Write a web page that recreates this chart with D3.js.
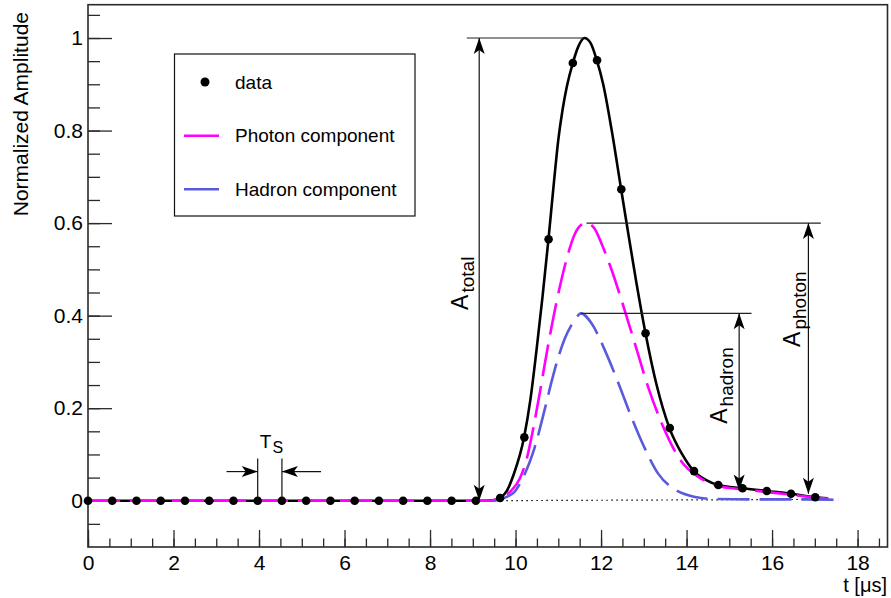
<!DOCTYPE html>
<html>
<head>
<meta charset="utf-8">
<script src="https://cdn.jsdelivr.net/npm/d3@7"></script>
<style>
  body { margin: 0; background: #fff; }
  text { font-family: "Liberation Sans", Arial, Helvetica, sans-serif; }
</style>
</head>
<body>
<div id="chart"></div>
<script>
// sampled data points (t in us, normalized amplitude)
const dataT = [0, 0.567, 1.134, 1.701, 2.268, 2.835, 3.402, 3.969, 4.536, 5.103, 5.67, 6.237, 6.804, 7.371, 7.938, 8.505,
    9.072, 9.639, 10.206, 10.773, 11.34, 11.907, 12.474, 13.041, 13.608, 14.175, 14.742, 15.309, 15.876, 16.443, 17.01];
const dataV = [0, 0, 0, 0, 0, 0, 0, 0, 0, 0, 0, 0, 0, 0, 0, 0,
    0, 0.006, 0.137, 0.565, 0.946, 0.952, 0.673, 0.362, 0.157, 0.064, 0.034, 0.027, 0.021, 0.015, 0.0075];

// fitted total pulse
const totalT = [0, 9.3, 9.5, 9.64, 9.8, 9.95, 10.2, 10.35, 10.49, 10.63, 10.77, 10.9, 11.0, 11.1, 11.2, 11.34, 11.47, 11.61,
    11.75, 11.9, 12.05, 12.25, 12.47, 12.65, 12.82, 13.04, 13.3, 13.6, 13.9, 14.17, 14.45, 14.74, 15.3, 15.87, 16.44, 17.0, 17.3];
const totalV = [0, 0, 0.001, 0.006, 0.022, 0.055, 0.137, 0.22, 0.325, 0.44, 0.565, 0.69, 0.78, 0.845, 0.895, 0.946, 0.982, 1.0,
    0.99, 0.952, 0.9, 0.8, 0.673, 0.57, 0.475, 0.362, 0.25, 0.157, 0.1, 0.064, 0.045, 0.034, 0.027, 0.021, 0.015, 0.0075, 0.005];

// photon component
const photonT = [0, 9.4, 9.67, 9.9, 10.1, 10.26, 10.42, 10.58, 10.75, 10.96, 11.16, 11.39, 11.55, 11.66,
    11.85, 12.01, 12.25, 12.48, 12.79, 13.1, 13.42, 13.88, 14.27, 14.74, 15.3, 15.87, 16.44, 17.0, 17.56];
const photonV = [0, 0, 0.008, 0.022, 0.048, 0.09, 0.159, 0.24, 0.33, 0.43, 0.51, 0.577, 0.597, 0.6,
    0.588, 0.556, 0.498, 0.433, 0.34, 0.246, 0.167, 0.085, 0.052, 0.032, 0.025, 0.019, 0.013, 0.007, 0.002];

// hadron component
const hadronT = [9.5, 9.94, 10.18, 10.45, 10.69, 10.85, 11.0, 11.15, 11.31, 11.43, 11.53,
    11.78, 12.09, 12.44, 12.71, 12.99, 13.34, 13.77, 14.2, 14.6, 15.5, 16.5, 17.56];
const hadronV = [0, 0.016, 0.051, 0.116, 0.2, 0.26, 0.31, 0.35, 0.38, 0.397, 0.405,
    0.383, 0.325, 0.246, 0.181, 0.12, 0.058, 0.022, 0.008, 0.004, 0.003, 0.003, 0.002];

const xMajor = [0, 2, 4, 6, 8, 10, 12, 14, 16, 18];
const yMajor = [0, 0.2, 0.4, 0.6, 0.8, 1];

const legendLabels = ["data", "Photon component", "Hadron component"];

const W = 891, H = 598;
const svg = d3.select("#chart").append("svg")
    .attr("width", W).attr("height", H);

const x = d3.scaleLinear().domain([0, 18.7]).range([88, 887.5]);
const y = d3.scaleLinear().domain([-0.1, 1.072]).range([547, 4.7]);

const frameColor = "#2a2a2a";

// axes (ticks drawn inward, ROOT style)
const xMinorAxis = d3.axisBottom(x).tickValues(d3.range(0, 18.6, 0.5)).tickSize(-8.5).tickFormat("");
const xMajorAxis = d3.axisBottom(x).tickValues(xMajor).tickSize(-17).tickPadding(8).tickFormat(d3.format("d"));
const yMinorAxis = d3.axisLeft(y).tickValues(d3.range(-0.05, 1.06, 0.05)).tickSize(-12).tickFormat("");
const yMajorAxis = d3.axisLeft(y).tickValues(yMajor).tickSize(-24).tickPadding(5).tickFormat(d => d3.format("")(+d.toFixed(1)));

[[xMinorAxis, "x"], [xMajorAxis, "x"], [yMinorAxis, "y"], [yMajorAxis, "y"]].forEach(([ax, k]) => {
    const g = svg.append("g")
        .attr("transform", k === "x" ? `translate(0,${y(-0.1)})` : `translate(${x(0)},0)`)
        .call(ax);
    g.select(".domain").remove();
    g.selectAll("line").attr("stroke", frameColor).attr("stroke-width", 1.3);
    g.selectAll("text").attr("fill", "#000").style("font-size", "21px")
        .style("font-family", "'Liberation Sans', Arial, sans-serif");
});

// frame
svg.append("rect")
    .attr("x", x(0)).attr("y", y(1.072))
    .attr("width", x(18.7) - x(0)).attr("height", y(-0.1) - y(1.072))
    .attr("fill", "none").attr("stroke", frameColor).attr("stroke-width", 1.6);

// axis titles
svg.append("text")
    .attr("transform", `translate(28,12) rotate(-90)`)
    .attr("text-anchor", "end")
    .style("font-size", "21px")
    .text("Normalized Amplitude");

svg.append("text")
    .attr("x", 887).attr("y", 592)
    .attr("text-anchor", "end")
    .style("font-size", "20px")
    .text("t [μs]");

const zip = (ts, vs) => ts.map((t, i) => [t, vs[i]]);
const line = d3.line().x(d => x(d[0])).y(d => y(d[1])).curve(d3.curveMonotoneX);

// baseline (dotted)
svg.append("line")
    .attr("x1", x(9.2)).attr("y1", y(0))
    .attr("x2", x(17.4)).attr("y2", y(0.003))
    .attr("stroke", "#000").attr("stroke-width", 1.2)
    .attr("stroke-dasharray", "1.5,3.5");

svg.append("path")
    .datum(zip(totalT, totalV))
    .attr("d", line)
    .attr("fill", "none").attr("stroke", "#000").attr("stroke-width", 2.6);

svg.append("path")
    .datum(zip(photonT, photonV))
    .attr("d", line)
    .attr("fill", "none").attr("stroke", "#ff00ff").attr("stroke-width", 2.6)
    .attr("stroke-dasharray", "32,10");

svg.append("path")
    .datum(zip(hadronT, hadronV))
    .attr("d", line)
    .attr("fill", "none").attr("stroke", "#5a5adc").attr("stroke-width", 2.6)
    .attr("stroke-dasharray", "32,10");

svg.selectAll(".pt")
    .data(zip(dataT, dataV))
    .join("circle")
    .attr("class", "pt")
    .attr("cx", d => x(d[0])).attr("cy", d => y(d[1]))
    .attr("r", 4.3)
    .attr("fill", "#000");

// annotations
function arrowHead(px, py, dx, dy) {
    // tip at (px,py), pointing along (dx,dy)
    const L = 16, Wd = 5.5, N = 12;
    const nx = -dy, ny = dx;
    const bx = px - dx * L, by = py - dy * L;
    const cx = px - dx * N, cy = py - dy * N;
    return `M${px},${py}L${bx + nx * Wd},${by + ny * Wd}L${cx},${cy}L${bx - nx * Wd},${by - ny * Wd}Z`;
}

function drawArrow(x1, y1, x2, y2, both) {
    const len = Math.hypot(x2 - x1, y2 - y1);
    const ux = (x2 - x1) / len, uy = (y2 - y1) / len;
    svg.append("line")
        .attr("x1", x1).attr("y1", y1).attr("x2", x2).attr("y2", y2)
        .attr("stroke", "#111").attr("stroke-width", 1.2);
    svg.append("path").attr("d", arrowHead(x2, y2, ux, uy)).attr("fill", "#000");
    if (both) svg.append("path").attr("d", arrowHead(x1, y1, -ux, -uy)).attr("fill", "#000");
}

// amplitude markers: arrow at t from v0 to v1, peak line from h0 to h1
const ampMarks = [
    { t: 9.15, v0: 0.0, v1: 1.0, h0: 8.86, h1: 11.61 },
    { t: 16.85, v0: 0.015, v1: 0.6, h0: 11.66, h1: 17.14 },
    { t: 15.23, v0: 0.022, v1: 0.405, h0: 11.53, h1: 15.52 }
];
ampMarks.forEach(m => {
    svg.append("line")
        .attr("x1", x(m.h0)).attr("x2", x(m.h1))
        .attr("y1", y(m.v1)).attr("y2", y(m.v1))
        .attr("stroke", "#222").attr("stroke-width", 1.2);
    drawArrow(x(m.t), y(m.v0), x(m.t), y(m.v1), true);
});

const ampLabels = [
    { t: 8.89, v: 0.47, sub: "total" },
    { t: 16.65, v: 0.414, sub: "photon" },
    { t: 14.94, v: 0.249, sub: "hadron" }
];
ampLabels.forEach(l => {
    const tx = svg.append("text")
        .attr("transform", `translate(${x(l.t)},${y(l.v)}) rotate(-90)`)
        .attr("text-anchor", "middle")
        .style("font-size", "23px");
    tx.append("tspan").text("A");
    tx.append("tspan").attr("dx", 2).attr("dy", 6).style("font-size", "19px").text(l.sub);
});

// sampling period Ts
const tsA = dataT[7], tsB = dataT[8];
[tsA, tsB].forEach(t => {
    svg.append("line")
        .attr("x1", x(t)).attr("x2", x(t))
        .attr("y1", y(0)).attr("y2", y(0.091))
        .attr("stroke", "#111").attr("stroke-width", 1.2);
});
drawArrow(x(3.24), y(0.063), x(tsA), y(0.063), false);
drawArrow(x(5.45), y(0.063), x(tsB), y(0.063), false);
const tsText = svg.append("text")
    .attr("x", x(4.02)).attr("y", y(0.115))
    .style("font-size", "19px");
tsText.append("tspan").text("T");
tsText.append("tspan").attr("dx", 1).attr("dy", 5.5).style("font-size", "16px").text("S");

// legend
const leg = svg.append("g");
leg.append("rect")
    .attr("x", 174.5).attr("y", 54).attr("width", 240.5).attr("height", 162)
    .attr("fill", "#fff").attr("stroke", "#111").attr("stroke-width", 1.2);
const legY = [82, 135.7, 189.3];
leg.append("circle").attr("cx", 205).attr("cy", legY[0]).attr("r", 4.5).attr("fill", "#000");
leg.append("line").attr("x1", 184).attr("x2", 219).attr("y1", legY[1]).attr("y2", legY[1])
    .attr("stroke", "#ff00ff").attr("stroke-width", 2.6);
leg.append("line").attr("x1", 184).attr("x2", 219).attr("y1", legY[2]).attr("y2", legY[2])
    .attr("stroke", "#5a5adc").attr("stroke-width", 2.6);
legendLabels.forEach((s, i) => {
    leg.append("text")
        .attr("x", 235).attr("y", legY[i] + 6.5)
        .style("font-size", "19px")
        .text(s);
});
</script>
</body>
</html>
